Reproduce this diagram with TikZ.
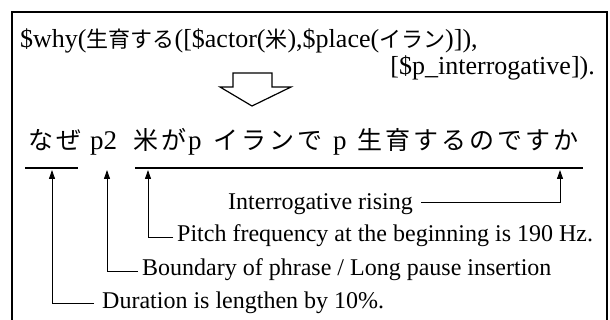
\documentclass[tikz,border=0pt]{standalone}
\usepackage{fontspec}
\setmainfont{Liberation Serif}
\newfontfamily\jp{Noto Sans CJK JP}
\newfontfamily\jpw[LetterSpace=12]{Noto Sans CJK JP}
\usetikzlibrary{arrows.meta}
\newcommand{\jt}[1]{{\jp\fontsize{22}{26}\selectfont #1}}
\begin{document}
\begin{tikzpicture}[x=1pt,y=-1pt,
  top/.style={anchor=base west, inner sep=0pt, font=\fontsize{26}{30}\selectfont},
  txt/.style={anchor=base west, inner sep=0pt, font=\fontsize{24}{28}\selectfont},
  jpl/.style={anchor=base west, inner sep=0pt, font=\jpw\fontsize{25}{30}\selectfont},
  lat/.style={anchor=base west, inner sep=0pt, font=\fontsize{27}{30}\selectfont},
  ptr/.style={line width=0.9pt, -{Triangle[length=9pt,width=6pt]}},
  rule/.style={line width=1.6pt},
  frame/.style={line width=1.2pt},
  bigarrow/.style={line width=1.2pt, line join=miter}]
\useasboundingbox (0,0) rectangle (610,320);
\draw[frame] (12,320) -- (12,12) -- (607,12) -- (607,320);
% top expression
\node[top] (l1) at (20,48) {\$why(\jt{生育する}([\$actor(\jt{米}),\$place(\jt{イラン})]),};
\node[top, anchor=base east] (l2) at (595,75) {[\$p\_interrogative]).};
% block arrow
\draw[bigarrow] (233,87) -- (233,73) -- (272,73) -- (272,87) -- (291,87) -- (252,106) -- (220,87) -- cycle;
% japanese line
\node[jpl] (w1) at (28,150) {なぜ};
\node[lat] (w2) at (90,150) {p2};
\node[jpl] (w3) at (133,150) {米が};
\node[lat] (w4) at (188,150) {p};
\node[jpl] (w5) at (213,150) {イランで};
\node[lat] (w6) at (333,150) {p};
\node[jpl] (w7) at (357,150) {生育するのですか};
% rules
\coordinate (r1a) at (25,168); \coordinate (r1b) at (78,168);
\coordinate (r2a) at (135,168); \coordinate (r2b) at (583,168);
\draw[rule] (r1a) -- (r1b);
\draw[rule] (r2a) -- (r2b);
% targets
\coordinate (t1) at (52,170);
\coordinate (t2) at (107,170);
\coordinate (t3) at (148,170);
\coordinate (t4) at (560,170);
% labels
\node[txt] (li) at (228,210) {Interrogative rising};
\node[txt] (lp) at (177,242) {Pitch frequency at the beginning is 190 Hz.};
\node[txt] (lb) at (142,276) {Boundary of phrase / Long pause insertion};
\node[txt] (ld) at (102,308) {Duration is lengthen by 10\%.};
% connectors
\draw[ptr] ([xshift=8pt,yshift=2pt]li.east) -| (t4);
\draw[ptr] ([xshift=-4pt,yshift=-1pt]lp.west) -| (t3);
\draw[ptr] ([xshift=-4pt,yshift=-1pt]lb.west) -| (t2);
\draw[ptr] ([xshift=-8pt,yshift=-1pt]ld.west) -| (t1);
\end{tikzpicture}
\end{document}
